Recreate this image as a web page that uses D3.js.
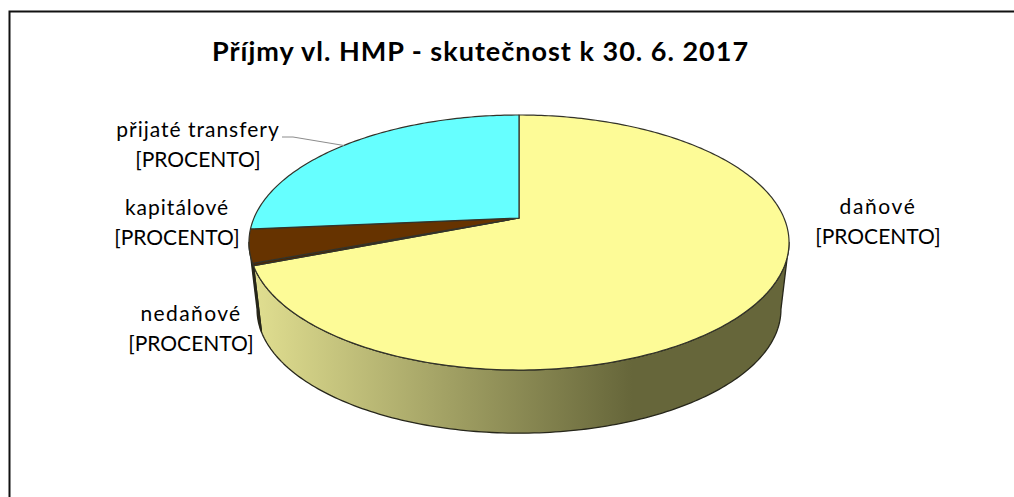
<!DOCTYPE html>
<html>
<head>
<meta charset="utf-8">
<script src="https://cdn.jsdelivr.net/npm/d3@7"></script>
<style>
    html, body { margin: 0; padding: 0; background: #fff; }
    svg { display: block; }
    text { font-family: Lato, "Open Sans", sans-serif; fill: #000; }
</style>
</head>
<body>
<svg id="chart" width="1014" height="497"></svg>
<script>
const chartTitle = "Příjmy vl. HMP - skutečnost k 30. 6. 2017";
const categories = ["daňové", "nedaňové", "kapitálové", "přijaté transfery"];
const shares = [69.1, 0.3, 4.2, 26.4];
const topColors = ["#fdfb97", "#4d2600", "#663300", "#66ffff"];
const valueLabel = "[PROCENTO]";

const svg = d3.select("#chart");

const width = 1014, height = 497;
const cx = 519, cy = 218;          // apex of the pie on screen
const k = 265;                     // horizontal radius before perspective
const yFar = 115, yNear = 370;     // top and bottom of the top face
const thickness = { scale: 0.97, shift: 67, midY: 242 };

// perspective: the far edge of the disc shrinks, so the apex sits above the ellipse centre
const c = (2 * cy - yFar - yNear) / (yNear - yFar);
const b = (yNear * (1 + c) - yFar * (1 - c)) / 2;

function rimTop(angle) {
    const u = Math.sin(angle), t = -Math.cos(angle);
    const w = 1 + c * t;
    return [cx + k * u / w, (cy + b * t) / w];
}

function rimBottom(angle) {
    const [x, y] = rimTop(angle);
    return [cx + thickness.scale * (x - cx),
            thickness.midY + thickness.scale * (y - thickness.midY) + thickness.shift];
}

function sample(from, to, fn) {
    const n = Math.max(2, Math.ceil(Math.abs(to - from) * 60));
    return d3.range(n + 1).map(i => fn(from + (to - from) * i / n));
}

const pie = d3.pie().sort(null).value(d => d)(shares);
const line = d3.line();
const deg = d3.scaleLinear().domain([0, 360]).range([0, 2 * Math.PI]);

// visible part of the wall runs between the two silhouette points
const wallFrom = deg(101), wallTo = deg(259);

const defs = svg.append("defs");
const grad = defs.append("linearGradient")
    .attr("id", "wall")
    .attr("gradientUnits", "userSpaceOnUse")
    .attr("x1", 255).attr("x2", 632)
    .attr("y1", 0).attr("y2", 0);
grad.append("stop").attr("offset", 0).attr("stop-color", "#e0de90");
grad.append("stop").attr("offset", 1).attr("stop-color", "#66663a");

// frame, only top and left are in the picture
svg.append("path")
    .attr("d", line([[9.5, height], [9.5, 11.5], [width, 11.5]]))
    .attr("fill", "none")
    .attr("stroke", "#111")
    .attr("stroke-width", 2);

svg.append("text")
    .attr("x", 480.5)
    .attr("y", 61)
    .attr("text-anchor", "middle")
    .attr("font-size", 27)
    .attr("font-weight", 700)
    .attr("letter-spacing", 1)
    .text(chartTitle);

// walls
const walls = pie
    .map((d, i) => ({
        from: Math.max(d.startAngle, wallFrom),
        to: Math.min(d.endAngle, wallTo),
        fill: i === 0 ? "url(#wall)" : d3.color(topColors[i]).darker(0.5)
    }))
    .filter(d => d.to > d.from);

svg.append("g").selectAll("path")
    .data(walls)
    .join("path")
    .attr("d", d => line(sample(d.from, d.to, rimTop)
        .concat(sample(d.to, d.from, rimBottom))) + "Z")
    .attr("fill", d => d.fill)
    .attr("stroke", "#26261a")
    .attr("stroke-width", 1.3)
    .attr("stroke-linejoin", "round");

// top face
svg.append("g").selectAll("path")
    .data(pie)
    .join("path")
    .attr("d", d => line([[cx, cy]].concat(sample(d.startAngle, d.endAngle, rimTop))) + "Z")
    .attr("fill", (d, i) => topColors[i])
    .attr("stroke", "#33332a")
    .attr("stroke-width", 1.2)
    .attr("stroke-linejoin", "round");

// leader of the transfers label
svg.append("path")
    .attr("d", line([[282, 137], [293, 137], [344, 145.5]]))
    .attr("fill", "none")
    .attr("stroke", "#8c8c8c")
    .attr("stroke-width", 1);

const labelPos = [
    { x: 878, y: 214, spacing: 1.6 },
    { x: 191, y: 321, spacing: 1.4 },
    { x: 177, y: 215, spacing: 1 },
    { x: 198, y: 137, spacing: 1 }
];

const labels = svg.append("g").selectAll("text")
    .data(categories)
    .join("text")
    .attr("text-anchor", "middle")
    .attr("font-size", 21);

labels.append("tspan")
    .attr("x", (d, i) => labelPos[i].x)
    .attr("y", (d, i) => labelPos[i].y)
    .attr("letter-spacing", (d, i) => labelPos[i].spacing)
    .text(d => d);

labels.append("tspan")
    .attr("x", (d, i) => labelPos[i].x)
    .attr("y", (d, i) => labelPos[i].y + 29.5)
    .text(valueLabel);
</script>
</body>
</html>
